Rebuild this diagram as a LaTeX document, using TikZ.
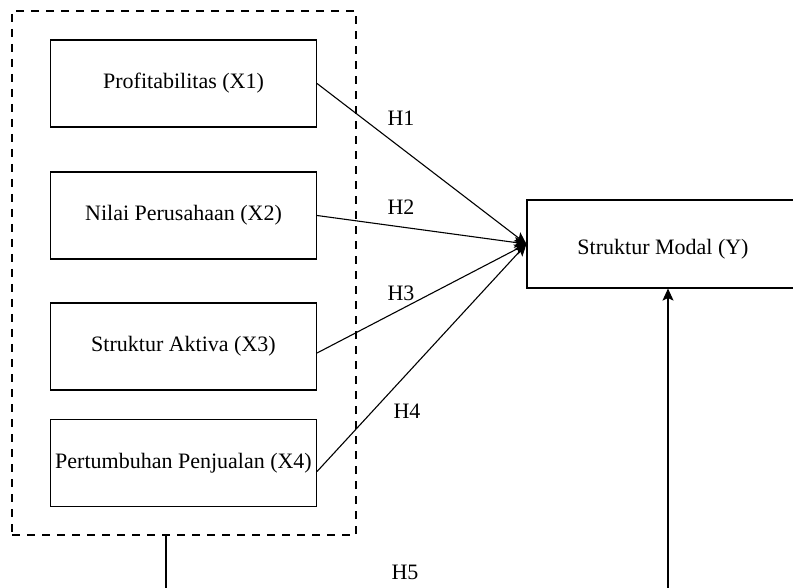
\documentclass[tikz,border=0pt]{standalone}
\usepackage{fontspec}
\setmainfont{Liberation Serif}
\usetikzlibrary{arrows.meta,calc}
\tikzset{
  varbox/.style={draw, line width=1.1pt, minimum width=266pt, minimum height=87pt, inner sep=0pt, align=center},
  grpbox/.style={draw, line width=1.1pt, dash pattern=on 8pt off 7pt, inner sep=0pt},
  arr/.style={line width=1.1pt, -{Stealth[length=12pt,width=11pt,inset=2.5pt]}},
  plain/.style={line width=1.1pt},
  hlab/.style={inner sep=0pt}
}
\begin{document}
\begin{tikzpicture}[x=1pt,y=-1pt,font=\fontsize{22}{26}\selectfont]
\useasboundingbox (0,0) rectangle (793,588);
\clip (0,0) rectangle (793,588);
\node[grpbox, minimum width=344pt, minimum height=524pt] (grp) at (184,273) {};
\node[varbox] (x1) at (183.5,83.5) {Profitabilitas (X1)};
\node[varbox] (x2) at (183.5,215.5) {Nilai Perusahaan (X2)};
\node[varbox] (x3) at (183.5,346.5) {Struktur Aktiva (X3)};
\node[varbox] (x4) at (183.5,463) {Pertumbuhan Penjualan (X4)};
\node[varbox, minimum width=272pt, minimum height=88pt] (y) at (663,244) {};
\node[hlab] (ytext) at (663,249) {Struktur Modal (Y)};
\node[hlab] (h1) at (401,118) {H1};
\node[hlab] (h2) at (401,207) {H2};
\node[hlab] (h3) at (401,293) {H3};
\node[hlab] (h4) at (407,411) {H4};
\node[hlab] (h5) at (405,572) {H5};
\draw[arr] (x1.east) -- (y.west);
\draw[arr] (x2.east) -- (y.west);
\draw[arr] ([yshift=-6.5pt]x3.east) -- (y.west);
\draw[arr] ([yshift=-8.5pt]x4.east) -- (y.west);
\coordinate (b1) at (166,600);
\coordinate (b2) at (668,600);
\draw[plain] (grp.south -| b1) -- (b1);
\draw[arr] (b2) -- (b2 |- y.south);
\end{tikzpicture}
\end{document}
